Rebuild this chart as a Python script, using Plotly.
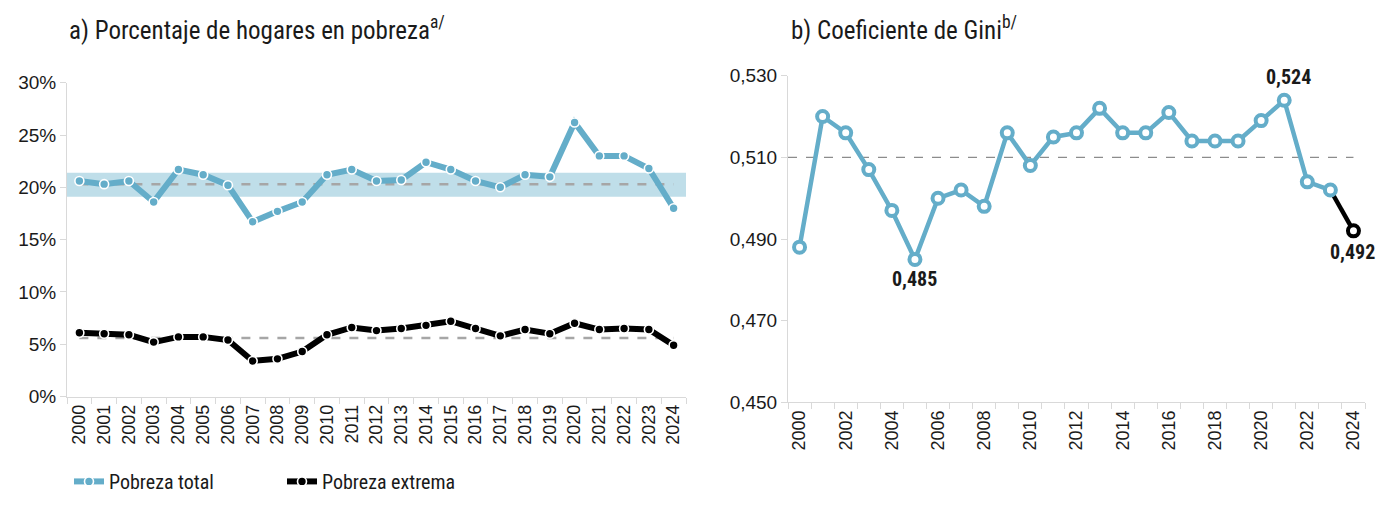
import plotly.graph_objects as go

years = list(range(2000, 2025))
pobreza_total = [20.6, 20.3, 20.6, 18.6, 21.7, 21.2, 20.2, 16.7, 17.7, 18.6,
                 21.2, 21.7, 20.6, 20.7, 22.4, 21.7, 20.6, 20.0, 21.2, 21.0,
                 26.2, 23.0, 23.0, 21.8, 18.0]
pobreza_extrema = [6.1, 6.0, 5.9, 5.2, 5.7, 5.7, 5.4, 3.4, 3.6, 4.3,
                   5.9, 6.6, 6.3, 6.5, 6.8, 7.2, 6.5, 5.8, 6.4, 6.0,
                   7.0, 6.4, 6.5, 6.4, 4.9]
promedio_total = 20.3
banda_total = [19.1, 21.4]
promedio_extrema = 5.6
gini = [0.488, 0.520, 0.516, 0.507, 0.497, 0.485, 0.500, 0.502, 0.498, 0.516,
        0.508, 0.515, 0.516, 0.522, 0.516, 0.516, 0.521, 0.514, 0.514, 0.514,
        0.519, 0.524, 0.504, 0.502, 0.492]
gini_ref = 0.510
y_ticks_pct = [0, 5, 10, 15, 20, 25, 30]
y_ticks_gini = [0.45, 0.47, 0.49, 0.51, 0.53]

W, H = 1369, 489          # page has an 8px body margin
OFF = 8


def px(X):
    return (X - OFF) / W


def py(Y):
    return 1 - (Y - OFF) / H


BLUE = "#64adc9"
BAND = "#bfdee9"
GREY = "#a6a6a6"
AXIS = "#d9d9d9"
ARIAL = "Liberation Sans, Arial, sans-serif"
COND = "Liberation Sans Narrow, Roboto Condensed, Arial Narrow, DejaVu Sans Condensed, sans-serif"

fig = go.Figure()

# left panel
fig.add_shape(type="rect", xref="x", yref="y", x0=years[0] - 0.5, x1=years[-1] + 0.5,
              y0=banda_total[0], y1=banda_total[1], fillcolor=BAND, line_width=0, layer="below")
fig.add_trace(go.Scatter(x=[years[0], years[-1]], y=[promedio_total] * 2, mode="lines",
                         line=dict(color=GREY, width=2.5, dash="dash"), showlegend=False,
                         hoverinfo="skip", xaxis="x", yaxis="y"))
fig.add_trace(go.Scatter(x=[years[0], years[-1]], y=[promedio_extrema] * 2, mode="lines",
                         line=dict(color=GREY, width=2.5, dash="dash"), showlegend=False,
                         hoverinfo="skip", xaxis="x", yaxis="y"))
fig.add_trace(go.Scatter(x=years, y=pobreza_total, mode="lines+markers", name="Pobreza total",
                         line=dict(color=BLUE, width=6),
                         marker=dict(color=BLUE, size=9, line=dict(color="white", width=1.6)),
                         xaxis="x", yaxis="y"))
fig.add_trace(go.Scatter(x=years, y=pobreza_extrema, mode="lines+markers", name="Pobreza extrema",
                         line=dict(color="black", width=6),
                         marker=dict(color="black", size=9, line=dict(color="white", width=1.6)),
                         xaxis="x", yaxis="y"))

# right panel
fig.add_trace(go.Scatter(x=[years[0] - 0.5, years[-1]], y=[gini_ref] * 2, mode="lines",
                         line=dict(color="#8c8c8c", width=1.2, dash="dash"), showlegend=False,
                         hoverinfo="skip", xaxis="x2", yaxis="y2"))
fig.add_trace(go.Scatter(x=years[-2:], y=gini[-2:], mode="lines",
                         line=dict(color="black", width=4.5), showlegend=False,
                         xaxis="x2", yaxis="y2"))
fig.add_trace(go.Scatter(x=years[:-1], y=gini[:-1], mode="lines+markers",
                         line=dict(color=BLUE, width=4.5),
                         marker=dict(color="white", size=11, line=dict(color=BLUE, width=4)),
                         showlegend=False, xaxis="x2", yaxis="y2"))
fig.add_trace(go.Scatter(x=years[-1:], y=gini[-1:], mode="markers",
                         marker=dict(color="white", size=11, line=dict(color="black", width=4)),
                         showlegend=False, xaxis="x2", yaxis="y2"))

label_pos = {2005: ("center", 0, -20), 2021: ("center", 4, 23), 2024: ("right", 24, -21)}
for yr, (anchor, dx, dy) in label_pos.items():
    v = gini[years.index(yr)]
    fig.add_annotation(x=yr, y=v, xref="x2", yref="y2", text=f"<b>{v:.3f}</b>".replace(".", ","),
                       showarrow=False, xanchor=anchor, xshift=dx, yshift=dy,
                       font=dict(family=COND, size=20, color="#1a1a1a"))

fig.add_annotation(x=px(67), y=py(29), xref="paper", yref="paper", xanchor="left",
                   yanchor="middle", showarrow=False,
                   text="a) Porcentaje de hogares en pobreza<sup>a/</sup>",
                   font=dict(family=COND, size=25, color="#1a1a1a"))
fig.add_annotation(x=px(789), y=py(29), xref="paper", yref="paper", xanchor="left",
                   yanchor="middle", showarrow=False,
                   text="b) Coeficiente de Gini<sup>b/</sup>",
                   font=dict(family=COND, size=25, color="#1a1a1a"))

half = [y - 0.5 for y in years] + [years[-1] + 0.5]
xcommon = dict(showline=True, linecolor=AXIS, linewidth=1, ticks="", tickangle=-90,
               tickfont=dict(family=ARIAL, size=18, color="#1a1a1a"), showgrid=False,
               zeroline=False, automargin=False, range=[years[0] - 0.5, years[-1] + 0.5],
               minor=dict(tickvals=half, ticks="outside", ticklen=6, tickcolor=AXIS, showgrid=False))
ycommon = dict(showline=True, linecolor=AXIS, linewidth=1, ticks="outside", ticklen=6,
               tickcolor=AXIS, tickfont=dict(family=ARIAL, size=19, color="#1a1a1a"),
               showgrid=False, zeroline=False, automargin=False, tickmode="array")

fig.update_layout(
    width=W, height=H, margin=dict(l=0, r=0, t=0, b=0, autoexpand=False),
    paper_bgcolor="white", plot_bgcolor="white", separators=",.",
    xaxis=dict(xcommon, domain=[px(67), px(686)], anchor="y",
               tickmode="array", tickvals=years, ticktext=[str(y) for y in years]),
    yaxis=dict(ycommon, domain=[py(396.5), py(82.7)], anchor="x",
               range=[0, 30], tickvals=y_ticks_pct, ticktext=[f"{t}%" for t in y_ticks_pct]),
    xaxis2=dict(xcommon, domain=[px(788), px(1365)], anchor="y2",
                tickmode="array", tickvals=years[::2], ticktext=[str(y) for y in years[::2]]),
    yaxis2=dict(ycommon, domain=[py(402.3), py(75.7)], anchor="x2",
                range=[0.450, 0.530], tickvals=y_ticks_gini,
                ticktext=[f"{t:.3f}".replace(".", ",") for t in y_ticks_gini]),
    legend=dict(orientation="h", x=px(69), y=-0.008, xanchor="left", yanchor="bottom",
                font=dict(family=COND, size=20, color="#1a1a1a"), entrywidth=168,
                itemwidth=30, bgcolor="rgba(0,0,0,0)", borderwidth=0),
)

fig.write_html("out.html")
